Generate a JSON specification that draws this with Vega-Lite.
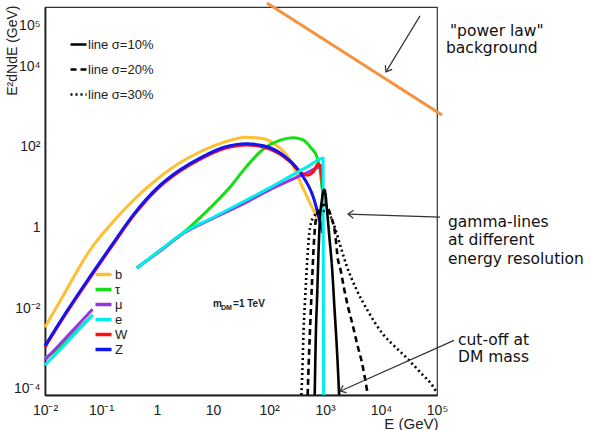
{
  "$schema": "https://vega.github.io/schema/vega-lite/v6.json",
  "width": 392,
  "height": 388,
  "autosize": {"type": "none"},
  "padding": {"left": 45, "top": 7, "right": 153, "bottom": 35},
  "background": "white",
  "config": {
    "view": {"stroke": "#333", "strokeWidth": 1.2},
    "font": "Liberation Sans",
    "axis": {
      "grid": false, "ticks": false, "domainColor": "#222", "domainWidth": 1.8,
      "labelColor": "#222", "labelFontSize": 14, "labelFont": "Liberation Sans", "titleFont": "Liberation Sans",
      "titleFontWeight": "normal", "titleColor": "#222", "labelOverlap": false, "labelFlush": false, "labelBound": false
    }
  },
  "resolve": {"axis": {"x": "independent", "y": "independent"}},
  "datasets": {
    "xt": [
      {"E": 0.1, "major": true}, {"E": 1, "major": true}, {"E": 10, "major": true}, {"E": 100, "major": true}, {"E": 1000, "major": true}, {"E": 10000, "major": true},
      {"E": 0.02, "major": false}, {"E": 0.03, "major": false}, {"E": 0.04, "major": false}, {"E": 0.05, "major": false}, {"E": 0.06, "major": false}, {"E": 0.07, "major": false}, {"E": 0.08, "major": false}, {"E": 0.09, "major": false},
      {"E": 0.2, "major": false}, {"E": 0.3, "major": false}, {"E": 0.4, "major": false}, {"E": 0.5, "major": false}, {"E": 0.6, "major": false}, {"E": 0.7, "major": false}, {"E": 0.8, "major": false}, {"E": 0.9, "major": false},
      {"E": 2, "major": false}, {"E": 3, "major": false}, {"E": 4, "major": false}, {"E": 5, "major": false}, {"E": 6, "major": false}, {"E": 7, "major": false}, {"E": 8, "major": false}, {"E": 9, "major": false},
      {"E": 20, "major": false}, {"E": 30, "major": false}, {"E": 40, "major": false}, {"E": 50, "major": false}, {"E": 60, "major": false}, {"E": 70, "major": false}, {"E": 80, "major": false}, {"E": 90, "major": false},
      {"E": 200, "major": false}, {"E": 300, "major": false}, {"E": 400, "major": false}, {"E": 500, "major": false}, {"E": 600, "major": false}, {"E": 700, "major": false}, {"E": 800, "major": false}, {"E": 900, "major": false},
      {"E": 2000, "major": false}, {"E": 3000, "major": false}, {"E": 4000, "major": false}, {"E": 5000, "major": false}, {"E": 6000, "major": false}, {"E": 7000, "major": false}, {"E": 8000, "major": false}, {"E": 9000, "major": false},
      {"E": 20000, "major": false}, {"E": 30000, "major": false}, {"E": 40000, "major": false}, {"E": 50000, "major": false}, {"E": 60000, "major": false}, {"E": 70000, "major": false}, {"E": 80000, "major": false}, {"E": 90000, "major": false}
    ],
    "yt": [
      {"v": 0.0001, "major": true}, {"v": 0.001, "major": true}, {"v": 0.01, "major": true}, {"v": 0.1, "major": true}, {"v": 1, "major": true}, {"v": 10, "major": true}, {"v": 100, "major": true}, {"v": 1000, "major": true}, {"v": 10000, "major": true}, {"v": 100000, "major": true},
      {"v": 0.0005, "major": false}, {"v": 0.005, "major": false}, {"v": 0.05, "major": false}, {"v": 0.5, "major": false}, {"v": 5, "major": false}, {"v": 50, "major": false}, {"v": 500, "major": false}
    ],
    "cont": [
      {"ch": "b", "seg": "a", "E": 0.01, "v": 0.0034},
      {"ch": "b", "seg": "a", "E": 0.0251, "v": 0.0316},
      {"ch": "b", "seg": "a", "E": 0.0631, "v": 0.275},
      {"ch": "b", "seg": "a", "E": 0.158, "v": 1.32},
      {"ch": "b", "seg": "a", "E": 0.398, "v": 5.13},
      {"ch": "b", "seg": "a", "E": 1, "v": 15.8},
      {"ch": "b", "seg": "a", "E": 2.51, "v": 39.8},
      {"ch": "b", "seg": "a", "E": 6.31, "v": 79.4},
      {"ch": "b", "seg": "a", "E": 15.8, "v": 132},
      {"ch": "b", "seg": "a", "E": 39.8, "v": 174},
      {"ch": "b", "seg": "a", "E": 79.4, "v": 160},
      {"ch": "b", "seg": "a", "E": 126, "v": 118},
      {"ch": "b", "seg": "a", "E": 237, "v": 47.9},
      {"ch": "b", "seg": "a", "E": 398, "v": 10},
      {"ch": "b", "seg": "a", "E": 617, "v": 2.75},
      {"ch": "b", "seg": "a", "E": 794, "v": 1.41},

      {"ch": "τ", "seg": "a", "E": 0.01, "v": 0.000575},
      {"ch": "τ", "seg": "a", "E": 0.0186, "v": 0.0011},
      {"ch": "τ", "seg": "a", "E": 0.0355, "v": 0.0027},
      {"ch": "τ", "seg": "a", "E": 0.0708, "v": 0.0069},
      {"ch": "τ", "seg": "b", "E": 0.437, "v": 0.1},
      {"ch": "τ", "seg": "b", "E": 1.12, "v": 0.27},
      {"ch": "τ", "seg": "b", "E": 2.91, "v": 0.735},
      {"ch": "τ", "seg": "b", "E": 7.94, "v": 2.63},
      {"ch": "τ", "seg": "b", "E": 20, "v": 10},
      {"ch": "τ", "seg": "b", "E": 39.8, "v": 33},
      {"ch": "τ", "seg": "b", "E": 79.4, "v": 89},
      {"ch": "τ", "seg": "b", "E": 158, "v": 148},
      {"ch": "τ", "seg": "b", "E": 269, "v": 170},
      {"ch": "τ", "seg": "b", "E": 398, "v": 151},
      {"ch": "τ", "seg": "b", "E": 562, "v": 95},
      {"ch": "τ", "seg": "b", "E": 720, "v": 56},
      {"ch": "τ", "seg": "b", "E": 815, "v": 27},
      {"ch": "τ", "seg": "b", "E": 891, "v": 8.9},

      {"ch": "μ", "seg": "a", "E": 0.01, "v": 0.00052},
      {"ch": "μ", "seg": "a", "E": 0.0186, "v": 0.0013},
      {"ch": "μ", "seg": "a", "E": 0.0355, "v": 0.0034},
      {"ch": "μ", "seg": "a", "E": 0.0708, "v": 0.0095},
      {"ch": "μ", "seg": "b", "E": 0.437, "v": 0.1},
      {"ch": "μ", "seg": "b", "E": 1.12, "v": 0.26},
      {"ch": "μ", "seg": "b", "E": 2.91, "v": 0.71},
      {"ch": "μ", "seg": "b", "E": 10, "v": 1.7},
      {"ch": "μ", "seg": "b", "E": 39.8, "v": 4.27},
      {"ch": "μ", "seg": "b", "E": 100, "v": 8.5},
      {"ch": "μ", "seg": "b", "E": 316, "v": 17.8},
      {"ch": "μ", "seg": "b", "E": 631, "v": 28},
      {"ch": "μ", "seg": "b", "E": 884, "v": 35.7},

      {"ch": "W", "seg": "a", "E": 0.01, "v": 0.00109},
      {"ch": "W", "seg": "a", "E": 0.0251, "v": 0.0083},
      {"ch": "W", "seg": "a", "E": 0.0631, "v": 0.056},
      {"ch": "W", "seg": "a", "E": 0.158, "v": 0.353},
      {"ch": "W", "seg": "a", "E": 0.398, "v": 2.13},
      {"ch": "W", "seg": "a", "E": 1, "v": 8.9},
      {"ch": "W", "seg": "a", "E": 2.51, "v": 24.5},
      {"ch": "W", "seg": "a", "E": 6.31, "v": 52},
      {"ch": "W", "seg": "a", "E": 15.8, "v": 91},
      {"ch": "W", "seg": "a", "E": 39.8, "v": 112},
      {"ch": "W", "seg": "a", "E": 79.4, "v": 100},
      {"ch": "W", "seg": "a", "E": 158, "v": 66},
      {"ch": "W", "seg": "a", "E": 251, "v": 40},
      {"ch": "W", "seg": "a", "E": 358, "v": 24},
      {"ch": "W", "seg": "a", "E": 479, "v": 20},
      {"ch": "W", "seg": "a", "E": 617, "v": 24},
      {"ch": "W", "seg": "a", "E": 750, "v": 38},
      {"ch": "W", "seg": "a", "E": 815, "v": 33},
      {"ch": "W", "seg": "a", "E": 884, "v": 15},
      {"ch": "W", "seg": "a", "E": 944, "v": 4},

      {"ch": "Z", "seg": "a", "E": 0.01, "v": 0.00117},
      {"ch": "Z", "seg": "a", "E": 0.0251, "v": 0.0089},
      {"ch": "Z", "seg": "a", "E": 0.0631, "v": 0.06},
      {"ch": "Z", "seg": "a", "E": 0.158, "v": 0.38},
      {"ch": "Z", "seg": "a", "E": 0.398, "v": 2.29},
      {"ch": "Z", "seg": "a", "E": 1, "v": 9.55},
      {"ch": "Z", "seg": "a", "E": 2.51, "v": 26.3},
      {"ch": "Z", "seg": "a", "E": 6.31, "v": 56},
      {"ch": "Z", "seg": "a", "E": 15.8, "v": 98},
      {"ch": "Z", "seg": "a", "E": 39.8, "v": 120},
      {"ch": "Z", "seg": "a", "E": 79.4, "v": 107},
      {"ch": "Z", "seg": "a", "E": 158, "v": 71},
      {"ch": "Z", "seg": "a", "E": 355, "v": 24},
      {"ch": "Z", "seg": "a", "E": 617, "v": 5.75},
      {"ch": "Z", "seg": "a", "E": 912, "v": 0.74},

      {"ch": "e", "seg": "a", "E": 0.01, "v": 0.00039},
      {"ch": "e", "seg": "a", "E": 0.0186, "v": 0.00095},
      {"ch": "e", "seg": "a", "E": 0.0355, "v": 0.00245},
      {"ch": "e", "seg": "a", "E": 0.0708, "v": 0.0067},
      {"ch": "e", "seg": "b", "E": 0.437, "v": 0.1},
      {"ch": "e", "seg": "b", "E": 1.12, "v": 0.27},
      {"ch": "e", "seg": "b", "E": 2.91, "v": 0.735},
      {"ch": "e", "seg": "b", "E": 10, "v": 1.78},
      {"ch": "e", "seg": "b", "E": 39.8, "v": 4.84},
      {"ch": "e", "seg": "b", "E": 100, "v": 9.5},
      {"ch": "e", "seg": "b", "E": 237, "v": 18.6},
      {"ch": "e", "seg": "b", "E": 501, "v": 33},
      {"ch": "e", "seg": "b", "E": 923, "v": 52.5},
      {"ch": "e", "seg": "b", "E": 945, "v": 0.000071}
    ],
    "gamma": [
      {"res": "line σ=10%", "E": 655, "v": 0.000071},
      {"res": "line σ=10%", "E": 690, "v": 0.003},
      {"res": "line σ=10%", "E": 720, "v": 0.016},
      {"res": "line σ=10%", "E": 770, "v": 0.3},
      {"res": "line σ=10%", "E": 815, "v": 1.8},
      {"res": "line σ=10%", "E": 880, "v": 4.8},
      {"res": "line σ=10%", "E": 935, "v": 8.0},
      {"res": "line σ=10%", "E": 970, "v": 8.7},
      {"res": "line σ=10%", "E": 1010, "v": 7.5},
      {"res": "line σ=10%", "E": 1086, "v": 2.7},
      {"res": "line σ=10%", "E": 1200, "v": 0.56},
      {"res": "line σ=10%", "E": 1334, "v": 0.105},
      {"res": "line σ=10%", "E": 1480, "v": 0.0095},
      {"res": "line σ=10%", "E": 1637, "v": 0.0009},
      {"res": "line σ=10%", "E": 1790, "v": 0.000071},

      {"res": "line σ=20%", "E": 490, "v": 0.000071},
      {"res": "line σ=20%", "E": 520, "v": 0.0008},
      {"res": "line σ=20%", "E": 545, "v": 0.004},
      {"res": "line σ=20%", "E": 586, "v": 0.043},
      {"res": "line σ=20%", "E": 625, "v": 0.3},
      {"res": "line σ=20%", "E": 662, "v": 1.0},
      {"res": "line σ=20%", "E": 740, "v": 2.4},
      {"res": "line σ=20%", "E": 850, "v": 3.3},
      {"res": "line σ=20%", "E": 975, "v": 3.7},
      {"res": "line σ=20%", "E": 1100, "v": 3.2},
      {"res": "line σ=20%", "E": 1300, "v": 1.8},
      {"res": "line σ=20%", "E": 1510, "v": 0.74},
      {"res": "line σ=20%", "E": 1706, "v": 0.16},
      {"res": "line σ=20%", "E": 1850, "v": 0.105},
      {"res": "line σ=20%", "E": 2200, "v": 0.03},
      {"res": "line σ=20%", "E": 2570, "v": 0.011},
      {"res": "line σ=20%", "E": 3035, "v": 0.0045},
      {"res": "line σ=20%", "E": 3870, "v": 0.0011},
      {"res": "line σ=20%", "E": 4570, "v": 0.00045},
      {"res": "line σ=20%", "E": 5620, "v": 0.000093},
      {"res": "line σ=20%", "E": 5800, "v": 0.000071},

      {"res": "line σ=30%", "E": 378, "v": 0.000071},
      {"res": "line σ=30%", "E": 395, "v": 0.0003},
      {"res": "line σ=30%", "E": 415, "v": 0.003},
      {"res": "line σ=30%", "E": 440, "v": 0.016},
      {"res": "line σ=30%", "E": 480, "v": 0.15},
      {"res": "line σ=30%", "E": 540, "v": 1.0},
      {"res": "line σ=30%", "E": 620, "v": 1.8},
      {"res": "line σ=30%", "E": 750, "v": 2.3},
      {"res": "line σ=30%", "E": 975, "v": 2.55},
      {"res": "line σ=30%", "E": 1250, "v": 1.9},
      {"res": "line σ=30%", "E": 1500, "v": 1.0},
      {"res": "line σ=30%", "E": 1850, "v": 0.38},
      {"res": "line σ=30%", "E": 2400, "v": 0.12},
      {"res": "line σ=30%", "E": 3700, "v": 0.028},
      {"res": "line σ=30%", "E": 6000, "v": 0.008},
      {"res": "line σ=30%", "E": 10800, "v": 0.0023},
      {"res": "line σ=30%", "E": 18000, "v": 0.0011},
      {"res": "line σ=30%", "E": 29000, "v": 0.00058},
      {"res": "line σ=30%", "E": 50000, "v": 0.00026},
      {"res": "line σ=30%", "E": 85000, "v": 0.000115},
      {"res": "line σ=30%", "E": 95000, "v": 0.00009}
    ],
    "powerlaw": [
      {"E": 92, "v": 370000},
      {"E": 123000, "v": 622}
    ],
    "arrows": [
      {"name": "pl", "E": 49700, "v": 178000, "E2": 12270, "v2": 7260},
      {"name": "gl", "E": 113300, "v": 1.83, "E2": 2575, "v2": 2.17},
      {"name": "co", "E": 201400, "v": 0.0016, "E2": 1853, "v2": 0.000088}
    ],
    "heads": [
      {"name": "pl", "E": 12270, "v": 7260},
      {"name": "gl", "E": 2575, "v": 2.17},
      {"name": "co", "E": 1853, "v": 0.000088}
    ],
    "notes": [
      {"t": "\"power law\"", "E": 170600, "v": 75500},
      {"t": "background", "E": 144900, "v": 28600},
      {"t": "gamma-lines", "E": 157200, "v": 1.38},
      {"t": "at different", "E": 157200, "v": 0.49},
      {"t": "energy resolution", "E": 157200, "v": 0.166},
      {"t": "cut-off at", "E": 237000, "v": 0.00163},
      {"t": "DM mass", "E": 237000, "v": 0.000615}
    ]
  },
  "encoding": {
    "x": {"field": "E", "type": "quantitative", "scale": {"type": "log", "domain": [0.01, 100000], "nice": false}, "axis": null},
    "y": {"field": "v", "type": "quantitative", "scale": {"type": "log", "domain": [0.0000708, 295000], "nice": false}, "axis": null}
  },
  "layer": [
    {
      "data": {"name": "powerlaw"},
      "mark": {"type": "line", "color": "#F5923E", "strokeWidth": 3},
      "encoding": {
        "x": {
          "field": "E", "type": "quantitative",
          "scale": {"type": "log", "domain": [0.01, 100000], "nice": false},
          "axis": {
            "orient": "bottom", "domain": true,
            "title": "E (GeV)", "titleAlign": "right", "titleX": 393, "titleY": 28, "titleBaseline": "middle", "titleFontSize": 15,
            "values": [0.01, 0.1, 1, 10, 100, 1000, 10000, 100000],
            "labelExpr": "round(log(datum.value)/LN10) == 0 ? '1' : round(log(datum.value)/LN10) == 1 ? '10' : '10' + (datum.value < 1 ? '⁻' : '') + ['⁰','¹','²','³','⁴','⁵'][abs(round(log(datum.value)/LN10))]",
            "labelPadding": 8
          }
        },
        "y": {
          "field": "v", "type": "quantitative",
          "scale": {"type": "log", "domain": [0.0000708, 295000], "nice": false},
          "axis": {
            "orient": "left", "domain": true,
            "title": "E²dNdE (GeV)", "titleAlign": "right", "titleAngle": 270, "titleX": -33, "titleY": -2, "titleBaseline": "middle", "titleFontSize": 14,
            "values": [0.0001, 0.01, 1, 100, 10000, 100000],
            "labelExpr": "round(log(datum.value)/LN10) == 0 ? '1' : '10' + (datum.value < 1 ? '⁻' : '') + ['⁰','¹','²','³','⁴','⁵'][abs(round(log(datum.value)/LN10))]",
            "labelPadding": 5
          }
        }
      }
    },
    {
      "data": {"name": "xt"},
      "transform": [{"filter": "datum.major"}],
      "mark": {"type": "tick", "orient": "vertical", "size": 11, "thickness": 1.8, "color": "#222", "opacity": 1, "yOffset": -5.5},
      "encoding": {
        "y": {"datum": 0.0000708, "type": "quantitative", "scale": {"type": "log", "domain": [0.0000708, 295000], "nice": false}, "axis": null}
      }
    },
    {
      "data": {"name": "xt"},
      "transform": [{"filter": "!datum.major"}],
      "mark": {"type": "tick", "orient": "vertical", "size": 6, "thickness": 1.6, "color": "#222", "opacity": 1, "yOffset": -3},
      "encoding": {
        "y": {"datum": 0.0000708, "type": "quantitative", "scale": {"type": "log", "domain": [0.0000708, 295000], "nice": false}, "axis": null}
      }
    },
    {
      "data": {"name": "yt"},
      "transform": [{"filter": "datum.major"}],
      "mark": {"type": "tick", "orient": "horizontal", "size": 10, "thickness": 1.8, "color": "#222", "opacity": 1, "xOffset": 5},
      "encoding": {
        "x": {"datum": 0.01, "type": "quantitative", "scale": {"type": "log", "domain": [0.01, 100000], "nice": false}, "axis": null}
      }
    },
    {
      "data": {"name": "yt"},
      "transform": [{"filter": "!datum.major"}],
      "mark": {"type": "tick", "orient": "horizontal", "size": 6, "thickness": 1.6, "color": "#222", "opacity": 1, "xOffset": 3},
      "encoding": {
        "x": {"datum": 0.01, "type": "quantitative", "scale": {"type": "log", "domain": [0.01, 100000], "nice": false}, "axis": null}
      }
    },
    {
      "data": {"name": "cont"},
      "mark": {"type": "line", "strokeWidth": 3, "interpolate": "monotone"},
      "encoding": {
        "detail": {"field": "seg"},
        "color": {
          "field": "ch", "type": "nominal",
          "scale": {"domain": ["b", "τ", "μ", "e", "W", "Z"], "range": ["#FFBF30", "#12E012", "#9933E6", "#00EEEE", "#FF1010", "#1414F0"]},
          "legend": {"title": null, "orient": "none", "legendX": 52, "legendY": 261, "symbolType": "M-2,0L2,0", "symbolSize": 64, "symbolStrokeWidth": 3.5, "labelFontSize": 13, "labelOffset": 5, "rowPadding": 0, "padding": 0, "labelColor": "#222", "labelFont": "Liberation Sans"}
        }
      }
    },
    {
      "data": {"name": "gamma"},
      "mark": {"type": "line", "color": "black", "strokeWidth": 2.6, "interpolate": "monotone"},
      "encoding": {
        "strokeDash": {
          "field": "res", "type": "nominal",
          "scale": {"domain": ["line σ=10%", "line σ=20%", "line σ=30%"], "range": [[1, 0], [6, 4], [2, 3]]},
          "legend": {"title": null, "orient": "none", "legendX": 27, "legendY": 31, "symbolType": "M-2,0L2,0", "symbolSize": 64, "symbolStrokeWidth": 2.5, "symbolStrokeColor": "#000", "labelFontSize": 13, "labelOffset": 3, "rowPadding": 11, "padding": 0, "labelColor": "#222", "labelFont": "Liberation Sans"}
        }
      }
    },
    {
      "data": {"name": "arrows"},
      "mark": {"type": "rule", "color": "#333", "strokeWidth": 1.2},
      "encoding": {
        "x2": {"field": "E2"},
        "y2": {"field": "v2"}
      }
    },
    {
      "data": {"name": "heads"},
      "transform": [{"filter": "datum.name == 'pl'"}],
      "mark": {"type": "point", "shape": "M-1.2,-0.9L0,0L-1.2,0.9", "angle": 121, "size": 80, "filled": false, "stroke": "#333", "strokeWidth": 1.2, "opacity": 1},
      "encoding": {}
    },
    {
      "data": {"name": "heads"},
      "transform": [{"filter": "datum.name == 'gl'"}],
      "mark": {"type": "point", "shape": "M-1.2,-0.9L0,0L-1.2,0.9", "angle": 182, "size": 80, "filled": false, "stroke": "#333", "strokeWidth": 1.2, "opacity": 1},
      "encoding": {}
    },
    {
      "data": {"name": "heads"},
      "transform": [{"filter": "datum.name == 'co'"}],
      "mark": {"type": "point", "shape": "M-1.2,-0.9L0,0L-1.2,0.9", "angle": 155, "size": 80, "filled": false, "stroke": "#333", "strokeWidth": 1.2, "opacity": 1},
      "encoding": {}
    },
    {
      "data": {"name": "notes"},
      "mark": {"type": "text", "align": "left", "baseline": "middle", "font": "DejaVu Sans", "fontSize": 15.5, "color": "#111"},
      "encoding": {"text": {"field": "t"}}
    },
    {
      "data": {"values": [{"t": "m", "E": 10, "v": 0.0127}, {"t": "=1 TeV", "E": 22.8, "v": 0.0127}]},
      "mark": {"type": "text", "align": "left", "baseline": "middle", "font": "Liberation Sans", "fontSize": 10, "fontWeight": "bold", "color": "#222"},
      "encoding": {"text": {"field": "t"}}
    },
    {
      "data": {"values": [{"t": "DM", "E": 13.9, "v": 0.0101}]},
      "mark": {"type": "text", "align": "left", "baseline": "middle", "font": "Liberation Sans", "fontSize": 7, "fontWeight": "bold", "color": "#222"},
      "encoding": {"text": {"field": "t"}}
    }
  ]
}
